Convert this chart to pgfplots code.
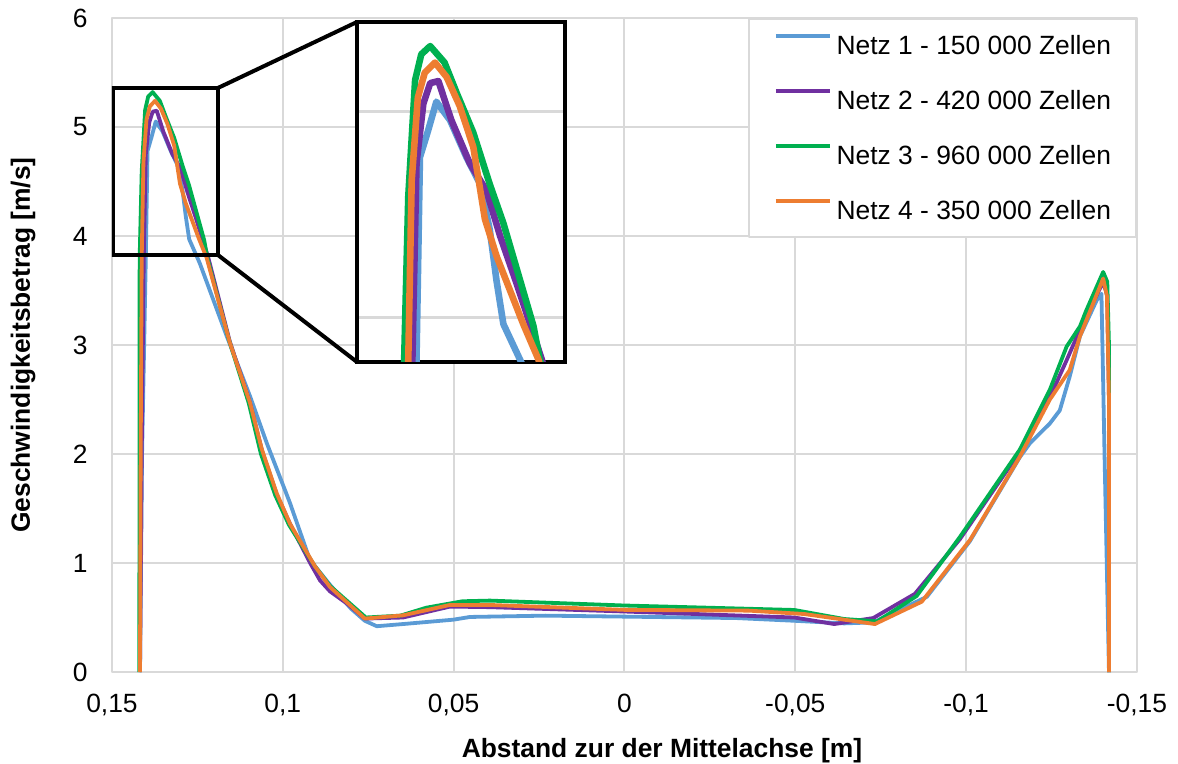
\documentclass[border=0pt]{standalone}
\usepackage{fontspec}
\setmainfont{Liberation Sans}
\usepackage{pgfplots}
\usepackage{pgfplotstable}
\pgfplotsset{compat=1.18}

\definecolor{cBlue}{HTML}{5B9BD5}
\definecolor{cPurple}{HTML}{7030A0}
\definecolor{cGreen}{HTML}{00B050}
\definecolor{cOrange}{HTML}{ED7D31}
\definecolor{cGrid}{HTML}{D9D9D9}

\newcommand\fs{\fontsize{13.2bp}{15.8bp}\selectfont}

\pgfplotstableread{
x y
0.1418 0
0.1412 2.0
0.1401 3.80
0.1396 4.78
0.1384 4.91
0.1372 5.05
0.1352 4.96
0.1328 4.78
0.1308 4.65
0.1294 4.43
0.1284 4.18
0.1274 3.97
0.1243 3.75
0.1164 3.08
0.1096 2.53
0.1047 2.10
0.0979 1.55
0.0921 1.03
0.0862 0.80
0.0800 0.58
0.0760 0.47
0.0725 0.42
0.0648 0.44
0.0501 0.48
0.0452 0.505
0.0231 0.517
0.0000 0.508
-0.0327 0.495
-0.0497 0.470
-0.0643 0.446
-0.0728 0.455
-0.0885 0.69
-0.1011 1.20
-0.1157 1.97
-0.1187 2.10
-0.1245 2.28
-0.1274 2.40
-0.1303 2.71
-0.1333 3.08
-0.1382 3.41
-0.1396 3.47
-0.1405 2.0
-0.1418 0
}\tblBlue

\pgfplotstableread{
x y
0.1418 0
0.1413 2.0
0.1407 3.80
0.1401 4.75
0.1391 5.04
0.1381 5.14
0.1369 5.15
0.1350 4.96
0.1323 4.75
0.1299 4.62
0.1279 4.40
0.1255 4.17
0.1218 3.80
0.1155 3.03
0.1096 2.47
0.1060 2.02
0.1018 1.63
0.0979 1.36
0.0920 1.00
0.0891 0.84
0.0862 0.74
0.0813 0.63
0.0760 0.49
0.0648 0.50
0.0511 0.60
0.0394 0.595
0.0000 0.555
-0.0497 0.50
-0.0614 0.44
-0.0728 0.495
-0.0850 0.717
-0.0982 1.22
-0.1157 2.02
-0.1245 2.52
-0.1294 2.86
-0.1333 3.14
-0.1401 3.58
-0.1413 3.45
-0.1418 2.5
-0.1418 0
}\tblPurple

\pgfplotstableread{
x y
0.1420 0
0.1419 3.80
0.1413 4.59
0.1403 5.155
0.1394 5.28
0.1381 5.32
0.1360 5.24
0.1342 5.09
0.1318 4.90
0.1294 4.65
0.1274 4.46
0.1230 3.96
0.1221 3.80
0.1158 3.05
0.1100 2.47
0.1064 2.00
0.1022 1.62
0.0982 1.35
0.0906 0.97
0.0862 0.79
0.0757 0.50
0.0656 0.517
0.0580 0.59
0.0474 0.649
0.0394 0.655
0.0000 0.61
-0.0497 0.569
-0.0643 0.486
-0.0740 0.465
-0.0855 0.697
-0.0982 1.24
-0.1157 2.04
-0.1245 2.59
-0.1294 2.985
-0.1333 3.17
-0.1352 3.32
-0.1401 3.67
-0.1413 3.58
-0.1418 3.0
-0.1418 0
}\tblGreen

\pgfplotstableread{
x y
0.1418 0
0.1416 2.0
0.1413 3.80
0.1408 4.67
0.1399 5.07
0.1389 5.19
0.1374 5.24
0.1357 5.17
0.1338 5.03
0.1318 4.83
0.1301 4.48
0.1284 4.30
0.1245 3.97
0.1223 3.80
0.1155 3.02
0.1096 2.47
0.1062 2.05
0.1018 1.64
0.0979 1.36
0.0906 0.97
0.0862 0.78
0.0760 0.49
0.0648 0.52
0.0511 0.615
0.0394 0.615
0.0000 0.57
-0.0364 0.563
-0.0526 0.532
-0.0733 0.44
-0.0870 0.645
-0.1011 1.21
-0.1157 1.975
-0.1245 2.50
-0.1303 2.77
-0.1333 3.08
-0.1401 3.61
-0.1412 3.45
-0.1418 2.5
-0.1418 0
}\tblOrange

\begin{document}
\begin{tikzpicture}[line join=round, line cap=round]
\useasboundingbox (-56bp,-46bp) rectangle (533bp,336bp);
\begin{axis}[
  at={(0,0)}, anchor=south west,
  width=512.5bp, height=327bp, scale only axis,
  xmin=-0.15, xmax=0.15, ymin=0, ymax=6,
  x dir=reverse,
  xtick={0.15,0.1,0.05,0,-0.05,-0.1,-0.15},
  xticklabels={{0,15},{0,1},{0,05},{0},{-0,05},{-0,1},{-0,15}},
  ytick={0,1,2,3,4,5,6},
  yticklabels={0,1,2,3,4,5,6},
  grid=major, grid style={cGrid, line width=1bp},
  axis line style={cGrid, line width=1bp},
  major tick length=0pt,
  tick label style={font=\fs},
  xticklabel style={anchor=base, yshift=-20.25bp},
  yticklabel style={anchor=east, inner sep=0pt, xshift=-12bp},
  every axis y label/.style={at={(axis description cs:-0.0868,0.5)}, anchor=center, rotate=90, font=\fs\bfseries},
  every axis x label/.style={at={(axis description cs:0.5366,-0.1210)}, anchor=center, font=\fs\bfseries},
  xlabel={Abstand zur der Mittelachse [m]},
  ylabel={Geschwindigkeitsbetrag [m/s]},
  legend style={at={(1,1)}, anchor=north east, draw=cGrid, line width=1bp, fill=white,
    inner xsep=12.5bp, inner ysep=7bp, row sep=15.2bp, column sep=2.5bp, font=\fs,
    nodes={inner sep=0pt, text height=10.8bp, text depth=1.5bp}},
  legend cell align=left,
  legend image code/.code={\draw[#1, line width=1.6bp] (0bp,4.6bp) -- (27bp,4.6bp);},
]
\addplot[cBlue, line width=1.9bp] table[x=x,y=y] {\tblBlue};
\addlegendentry{Netz 1 - 150 000 Zellen}
\addplot[cPurple, line width=1.9bp] table[x=x,y=y] {\tblPurple};
\addlegendentry{Netz 2 - 420 000 Zellen}
\addplot[cGreen, line width=1.9bp] table[x=x,y=y] {\tblGreen};
\addlegendentry{Netz 3 - 960 000 Zellen}
\addplot[cOrange, line width=1.9bp] table[x=x,y=y] {\tblOrange};
\addlegendentry{Netz 4 - 350 000 Zellen}
\draw[black, line width=2bp, line cap=butt, line join=miter] (axis cs:0.1497,3.826) rectangle (axis cs:0.1190,5.358);
\coordinate (bTR) at (axis cs:0.1190,5.358);
\coordinate (bBR) at (axis cs:0.1190,3.826);
\end{axis}
\draw[black, line width=2bp] (bTR) -- (122.5bp,325bp);
\draw[black, line width=2bp] (bBR) -- (122.5bp,155bp);
\begin{axis}[
  name=inset,
  at={(122.5bp,155bp)}, anchor=south west,
  width=104bp, height=170bp, scale only axis,
  xmin=0.1184, xmax=0.1488, x dir=reverse,
  ymin=3.786, ymax=5.437,
  xtick=\empty, ytick={4,5}, yticklabels={},
  ymajorgrids, grid style={cGrid, line width=1.5bp},
  major tick length=0pt,
  axis line style={black, line width=2bp, line join=miter},
  axis background/.style={fill=white},
]
\addplot[cBlue, line width=3.3bp] table[x=x,y=y] {\tblBlue};
\addplot[cPurple, line width=3.3bp] table[x=x,y=y] {\tblPurple};
\addplot[cGreen, line width=3.3bp] table[x=x,y=y] {\tblGreen};
\addplot[cOrange, line width=3.3bp] table[x=x,y=y] {\tblOrange};
\end{axis}
\end{tikzpicture}
\end{document}
